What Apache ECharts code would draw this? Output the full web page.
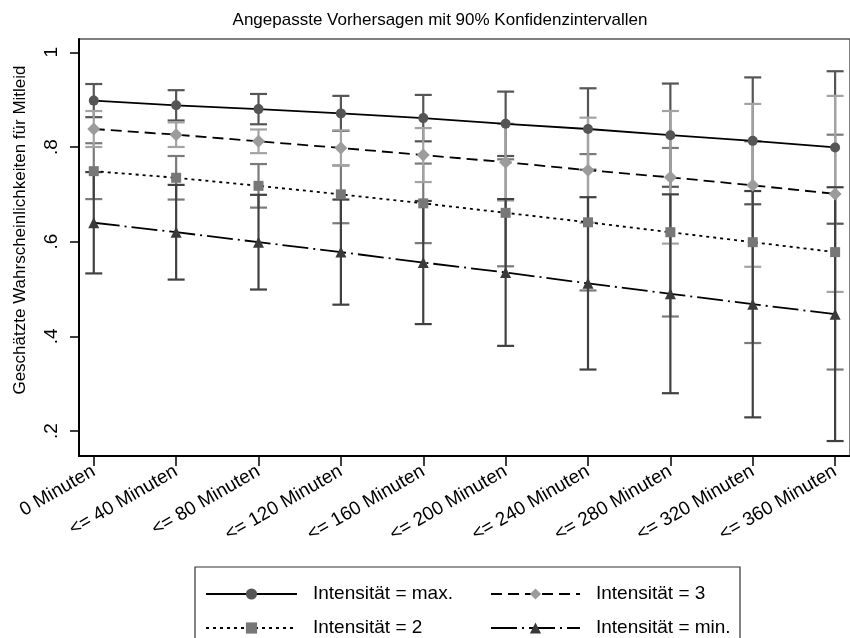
<!DOCTYPE html>
<html><head><meta charset="utf-8">
<script src="https://cdn.jsdelivr.net/npm/echarts@6/dist/echarts.min.js"></script>
<style>html,body{margin:0;padding:0;background:#fff}#c{width:850px;height:638px}</style>
</head><body><div id="c"></div>
<script>
const categories = ['0 Minuten','<= 40 Minuten','<= 80 Minuten','<= 120 Minuten','<= 160 Minuten','<= 200 Minuten','<= 240 Minuten','<= 280 Minuten','<= 320 Minuten','<= 360 Minuten'];
const yTicks = [0.2, 0.4, 0.6, 0.8, 1];

const maxMean = [0.898,0.888,0.880,0.871,0.861,0.849,0.838,0.825,0.813,0.799];
const maxLo   = [0.863,0.856,0.848,0.834,0.812,0.781,0.752,0.716,0.679,0.638];
const maxHi   = [0.933,0.920,0.912,0.908,0.910,0.917,0.924,0.934,0.947,0.960];

const s3Mean = [0.838,0.826,0.812,0.798,0.783,0.768,0.751,0.736,0.719,0.701];
const s3Lo   = [0.800,0.800,0.787,0.761,0.726,0.687,0.640,0.596,0.547,0.494];
const s3Hi   = [0.876,0.852,0.837,0.835,0.840,0.849,0.862,0.876,0.891,0.908];

const s2Mean = [0.749,0.735,0.718,0.700,0.681,0.661,0.641,0.620,0.599,0.578];
const s2Lo   = [0.690,0.689,0.672,0.639,0.597,0.548,0.497,0.442,0.386,0.330];
const s2Hi   = [0.808,0.781,0.764,0.761,0.765,0.774,0.785,0.798,0.812,0.826];

const minMean = [0.640,0.620,0.599,0.578,0.556,0.535,0.512,0.490,0.468,0.447];
const minLo   = [0.533,0.520,0.499,0.467,0.426,0.380,0.330,0.280,0.229,0.179];
const minHi   = [0.747,0.720,0.699,0.689,0.686,0.690,0.694,0.700,0.707,0.715];

const FONT = '"Liberation Sans", Arial, sans-serif';

function ciRender(color){
  return function(params, api){
    const x = api.value(0);
    const p1 = api.coord([x, api.value(1)]);
    const p2 = api.coord([x, api.value(2)]);
    const w = 8.5;
    const style = {stroke: color, lineWidth: 2.2, fill: null};
    return {type:'group', children:[
      {type:'line', shape:{x1:p1[0], y1:p1[1], x2:p2[0], y2:p2[1]}, style},
      {type:'line', shape:{x1:p1[0]-w, y1:p1[1], x2:p1[0]+w, y2:p1[1]}, style},
      {type:'line', shape:{x1:p2[0]-w, y1:p2[1], x2:p2[0]+w, y2:p2[1]}, style}
    ]};
  };
}
function ciSeries(name, lo, hi, color){
  return {type:'custom', name:name, renderItem: ciRender(color),
    data: categories.map((c,i)=>[i, lo[i], hi[i]]),
    encode:{x:0, y:[1,2]}, z:2, silent:true};
}
function lineSeries(name, mean, symbol, size, mColor, dash){
  return {type:'line', name:name, data: categories.map((c,i)=>[i, mean[i]]),
    symbol:symbol, symbolSize:size, showSymbol:true,
    itemStyle:{color:mColor},
    lineStyle:{color:'#000', width:1.8, type:dash},
    z:5, silent:true, animation:false};
}
function legendItem(name, left, top, w){
  return {data:[name], orient:'horizontal', left:left, top:top, padding:0,
    itemWidth:w, itemHeight:14, selectedMode:false,
    textStyle:{fontFamily:FONT, fontSize:19, lineHeight:20, color:'#000', padding:[0,0,0,11]}};
}

const chart = echarts.init(document.getElementById('c'), null, {renderer:'canvas'});
chart.setOption({
  animation:false,
  backgroundColor:'#fff',
  title:{text:'Angepasste Vorhersagen mit 90% Konfidenzintervallen', left:435, top:7, textAlign:'center',
    textStyle:{fontFamily:FONT, fontSize:17, fontWeight:'normal', color:'#000'}},
  grid:{left:79, top:39, width:783, height:417, show:true, borderColor:'#555', borderWidth:1.5, backgroundColor:'#fff'},
  xAxis:{type:'value', min:-0.1793, max:9.1807,
    axisLine:{show:true, onZero:false, lineStyle:{color:'#000', width:2}},
    axisTick:{show:true, length:10, lineStyle:{color:'#000', width:1.5}, customValues:categories.map((c,i)=>i)},
    axisLabel:{rotate:30, margin:14, fontFamily:FONT, fontSize:19, color:'#000',
      customValues:categories.map((c,i)=>i),
      formatter:(v)=>categories[Math.round(v)]},
    splitLine:{show:false}},
  yAxis:{type:'value', min:0.1474, max:1.0281,
    axisLine:{show:true, onZero:false, lineStyle:{color:'#000', width:2}},
    axisTick:{show:true, length:9, lineStyle:{color:'#000', width:1.5}, customValues:yTicks},
    axisLabel:{rotate:90, margin:18, fontFamily:FONT, fontSize:19, color:'#000',
      customValues:yTicks,
      formatter:(v)=> v>=0.999 ? '1' : '.'+Math.round(v*10)},
    splitLine:{show:false}},
  legend:[
    legendItem('Intensität = max.', 205, 584, 91),
    legendItem('Intensität = 2', 205, 618, 91),
    legendItem('Intensität = 3', 490, 584, 89),
    legendItem('Intensität = min.', 490, 618, 89)
  ],
  graphic:[
    {type:'rect', shape:{x:195, y:567, width:545, height:90}, style:{fill:'none', stroke:'#333', lineWidth:1.2}, z:-1, silent:true},
    {type:'text', x:20, y:230, rotation:Math.PI/2, style:{text:'Geschätzte Wahrscheinlichkeiten für Mitleid', font:'17px '+FONT, fill:'#000', textAlign:'center', textVerticalAlign:'middle'}, silent:true}
  ],
  series:[
    ciSeries('ci_max', maxLo, maxHi, '#555555'),
    ciSeries('ci_2', s2Lo, s2Hi, '#7a7a7a'),
    ciSeries('ci_3', s3Lo, s3Hi, '#a3a3a3'),
    ciSeries('ci_min', minLo, minHi, '#404040'),
    lineSeries('Intensität = max.', maxMean, 'circle', 10, '#555555', 'solid'),
    lineSeries('Intensität = 3', s3Mean, 'diamond', 13, '#9c9c9c', [11,6]),
    lineSeries('Intensität = 2', s2Mean, 'rect', 10, '#777777', [3,4]),
    lineSeries('Intensität = min.', minMean, 'triangle', 11, '#3a3a3a', [26,5,2,5])
  ]
});
</script>
</body></html>
